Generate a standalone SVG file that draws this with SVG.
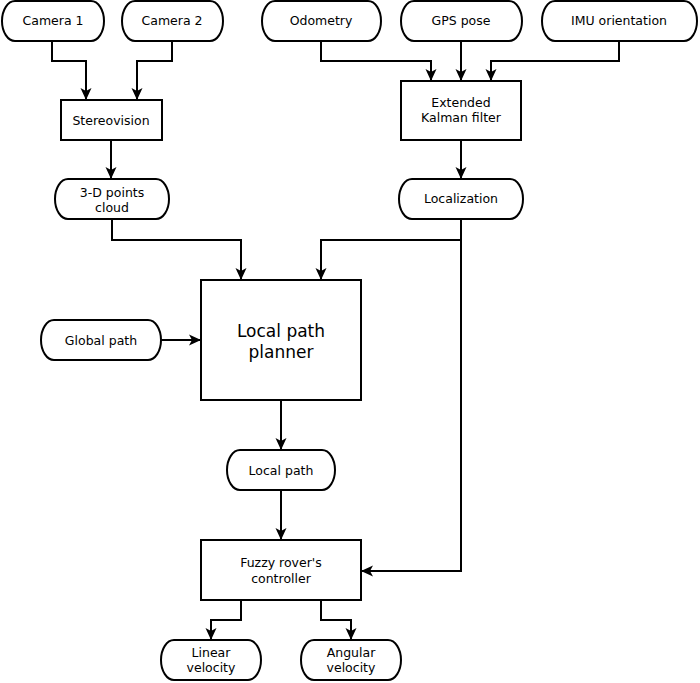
<svg xmlns="http://www.w3.org/2000/svg" width="700" height="683" viewBox="0 0 700 683">
  <style>
    .term { fill: #fff; stroke: #000; stroke-width: 2; }
    .proc { fill: #fff; stroke: #000; stroke-width: 2; }
    .lbl { font-family: "DejaVu Sans", "Liberation Sans", sans-serif; font-size: 12.5px; fill: #000; text-anchor: middle; }
    .big { font-size: 17px; }
    .wire { fill: none; stroke: #000; stroke-width: 2; marker-end: url(#arrow); }
  </style>
  <defs>
    <marker id="arrow" viewBox="0 0 12 12" refX="12" refY="6" markerWidth="12" markerHeight="12" markerUnits="userSpaceOnUse" orient="auto">
      <path d="M0,0.5 L12,6 L0,11.5 L3,6 z" fill="#000"/>
    </marker>
  </defs>
  <rect width="700" height="683" fill="#fff"/>

  <g id="connectors">
    <path class="wire" d="M52,41 V61 H86 V100"/>
    <path class="wire" d="M172,41 V61 H137 V100"/>
    <path class="wire" d="M321,41 V61 H431 V81"/>
    <path class="wire" d="M461,41 V81"/>
    <path class="wire" d="M619,41 V61 H491 V81"/>
    <path class="wire" d="M111,140 V179"/>
    <path class="wire" d="M461,140 V179"/>
    <path class="wire" d="M112,219 V240 H241 V280"/>
    <path class="wire" d="M461,219 V240 H321 V280"/>
    <path class="wire" d="M461,240 V571 H361"/>
    <path class="wire" d="M161,340 H201"/>
    <path class="wire" d="M281,400 V450"/>
    <path class="wire" d="M281,490 V540"/>
    <path class="wire" d="M241,600 V620 H211 V640"/>
    <path class="wire" d="M321,600 V620 H351 V640"/>
  </g>

  <g id="camera1">
    <rect class="term" x="2" y="1" width="102" height="40" rx="13" ry="20"/>
    <text class="lbl" x="53" y="25">Camera 1</text>
  </g>
  <g id="camera2">
    <rect class="term" x="122" y="1" width="101" height="40" rx="13" ry="20"/>
    <text class="lbl" x="172" y="25">Camera 2</text>
  </g>
  <g id="odometry">
    <rect class="term" x="262" y="1" width="119" height="40" rx="13" ry="20"/>
    <text class="lbl" x="321" y="25">Odometry</text>
  </g>
  <g id="gps">
    <rect class="term" x="401" y="1" width="121" height="40" rx="13" ry="20"/>
    <text class="lbl" x="461" y="25">GPS pose</text>
  </g>
  <g id="imu">
    <rect class="term" x="542" y="1" width="155" height="40" rx="13" ry="20"/>
    <text class="lbl" x="619" y="25">IMU orientation</text>
  </g>

  <g id="stereovision">
    <rect class="proc" x="61" y="100" width="101" height="40"/>
    <text class="lbl" x="111" y="125">Stereovision</text>
  </g>
  <g id="ekf">
    <rect class="proc" x="401" y="81" width="120" height="59"/>
    <text class="lbl" x="461" y="107">Extended</text>
    <text class="lbl" x="461" y="122">Kalman filter</text>
  </g>

  <g id="points-cloud">
    <rect class="term" x="55" y="179" width="114" height="40" rx="13" ry="20"/>
    <text class="lbl" x="112" y="196.5">3-D points</text>
    <text class="lbl" x="112" y="211.5">cloud</text>
  </g>
  <g id="localization">
    <rect class="term" x="399" y="179" width="124" height="40" rx="13" ry="20"/>
    <text class="lbl" x="461" y="203">Localization</text>
  </g>

  <g id="global-path">
    <rect class="term" x="41" y="320" width="120" height="40" rx="13" ry="20"/>
    <text class="lbl" x="101" y="345">Global path</text>
  </g>
  <g id="local-path-planner">
    <rect class="proc" x="201" y="280" width="160" height="120"/>
    <text class="lbl big" x="281" y="337">Local path</text>
    <text class="lbl big" x="281" y="358">planner</text>
  </g>

  <g id="local-path">
    <rect class="term" x="227" y="450" width="108" height="40" rx="13" ry="20"/>
    <text class="lbl" x="281" y="475">Local path</text>
  </g>

  <g id="fuzzy-controller">
    <rect class="proc" x="201" y="540" width="160" height="60"/>
    <text class="lbl" x="281" y="567">Fuzzy rover's</text>
    <text class="lbl" x="281" y="583">controller</text>
  </g>

  <g id="linear-velocity">
    <rect class="term" x="161" y="640" width="100" height="40" rx="13" ry="20"/>
    <text class="lbl" x="211" y="657">Linear</text>
    <text class="lbl" x="211" y="672">velocity</text>
  </g>
  <g id="angular-velocity">
    <rect class="term" x="301" y="640" width="100" height="40" rx="13" ry="20"/>
    <text class="lbl" x="351" y="657">Angular</text>
    <text class="lbl" x="351" y="672">velocity</text>
  </g>
</svg>
